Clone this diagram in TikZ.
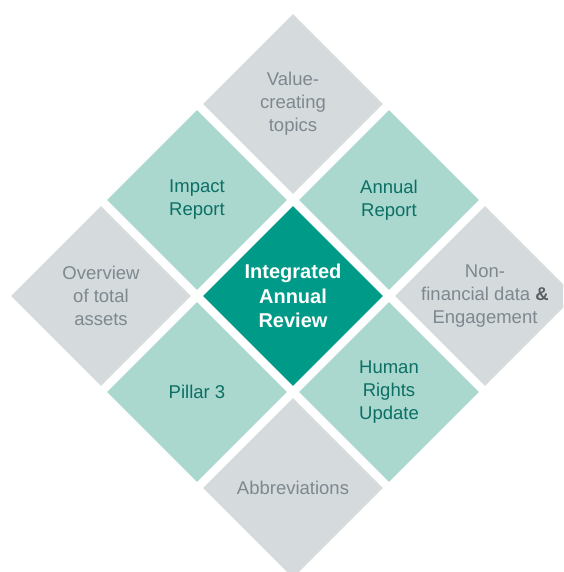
\documentclass[tikz,border=0pt]{standalone}
\usepackage{fontspec}
\setmainfont{Liberation Sans}
\usepackage{tikz}
\usetikzlibrary{shapes.geometric,positioning}

\definecolor{darkteal}{HTML}{009B88}
\definecolor{lightteal}{HTML}{AAD8CF}
\definecolor{tilegrey}{HTML}{D5DADC}
\definecolor{tealtext}{HTML}{0B6F65}
\definecolor{greytext}{HTML}{7D888F}

\tikzset{
  tile/.style={shape=diamond, minimum size=180, inner sep=0, draw=none},
  greytile/.style={tile, fill=tilegrey},
  tealtile/.style={tile, fill=lightteal},
  maintile/.style={tile, fill=darkteal},
  greytxt/.style={align=center, text=greytext, font=\fontsize{18.5}{23}\selectfont},
  tealtxt/.style={align=center, text=tealtext, font=\fontsize{18.5}{23}\selectfont},
  maintxt/.style={align=center, text=white, font=\fontsize{20}{24.5}\selectfont\bfseries}
}

\begin{document}
\begin{tikzpicture}[x=1pt,y=1pt]
  \def\s{96}
  \useasboundingbox (-293,-276) rectangle (270,296);
  \clip (-293,-276) rectangle (270,296);
  % centre
  \node[maintile] (review) at (0,0) {};
  \node[maintxt] (reviewtxt) at (review) {Integrated\\Annual\\Review};
  % inner ring
  \node[tealtile] (impact) at (-\s,\s) {};
  \node[tealtxt] (impacttxt) at (impact) {Impact\\Report};
  \node[tealtile] (annual) at (\s,\s) {};
  \node[tealtxt] (annualtxt) at (annual) {Annual\\Report};
  \node[tealtile] (pillar) at (-\s,-\s) {};
  \node[tealtxt] (pillartxt) at (pillar) {Pillar 3};
  \node[tealtile] (rights) at (\s,-\s) {};
  \node[tealtxt] (rightstxt) at (rights) {Human\\Rights\\Update};
  % outer ring
  \node[greytile] (value) at (0,2*\s) {};
  \node[greytxt] (valuetxt) at (value) {Value-\\creating\\topics};
  \node[greytile] (overview) at (-2*\s,0) {};
  \node[greytxt] (overviewtxt) at (overview) {Overview\\of total\\assets};
  \node[greytile] (nonfin) at (2*\s,0) {};
  \node[greytxt] (nonfintxt) at (nonfin) {Non-\\financial data {\color{greytext!70!black}\textbf{\&}}\\Engagement};
  \node[greytile] (abbrev) at (0,-2*\s) {};
  \node[greytxt] (abbrevtxt) at (abbrev) {Abbreviations};
\end{tikzpicture}
\end{document}
